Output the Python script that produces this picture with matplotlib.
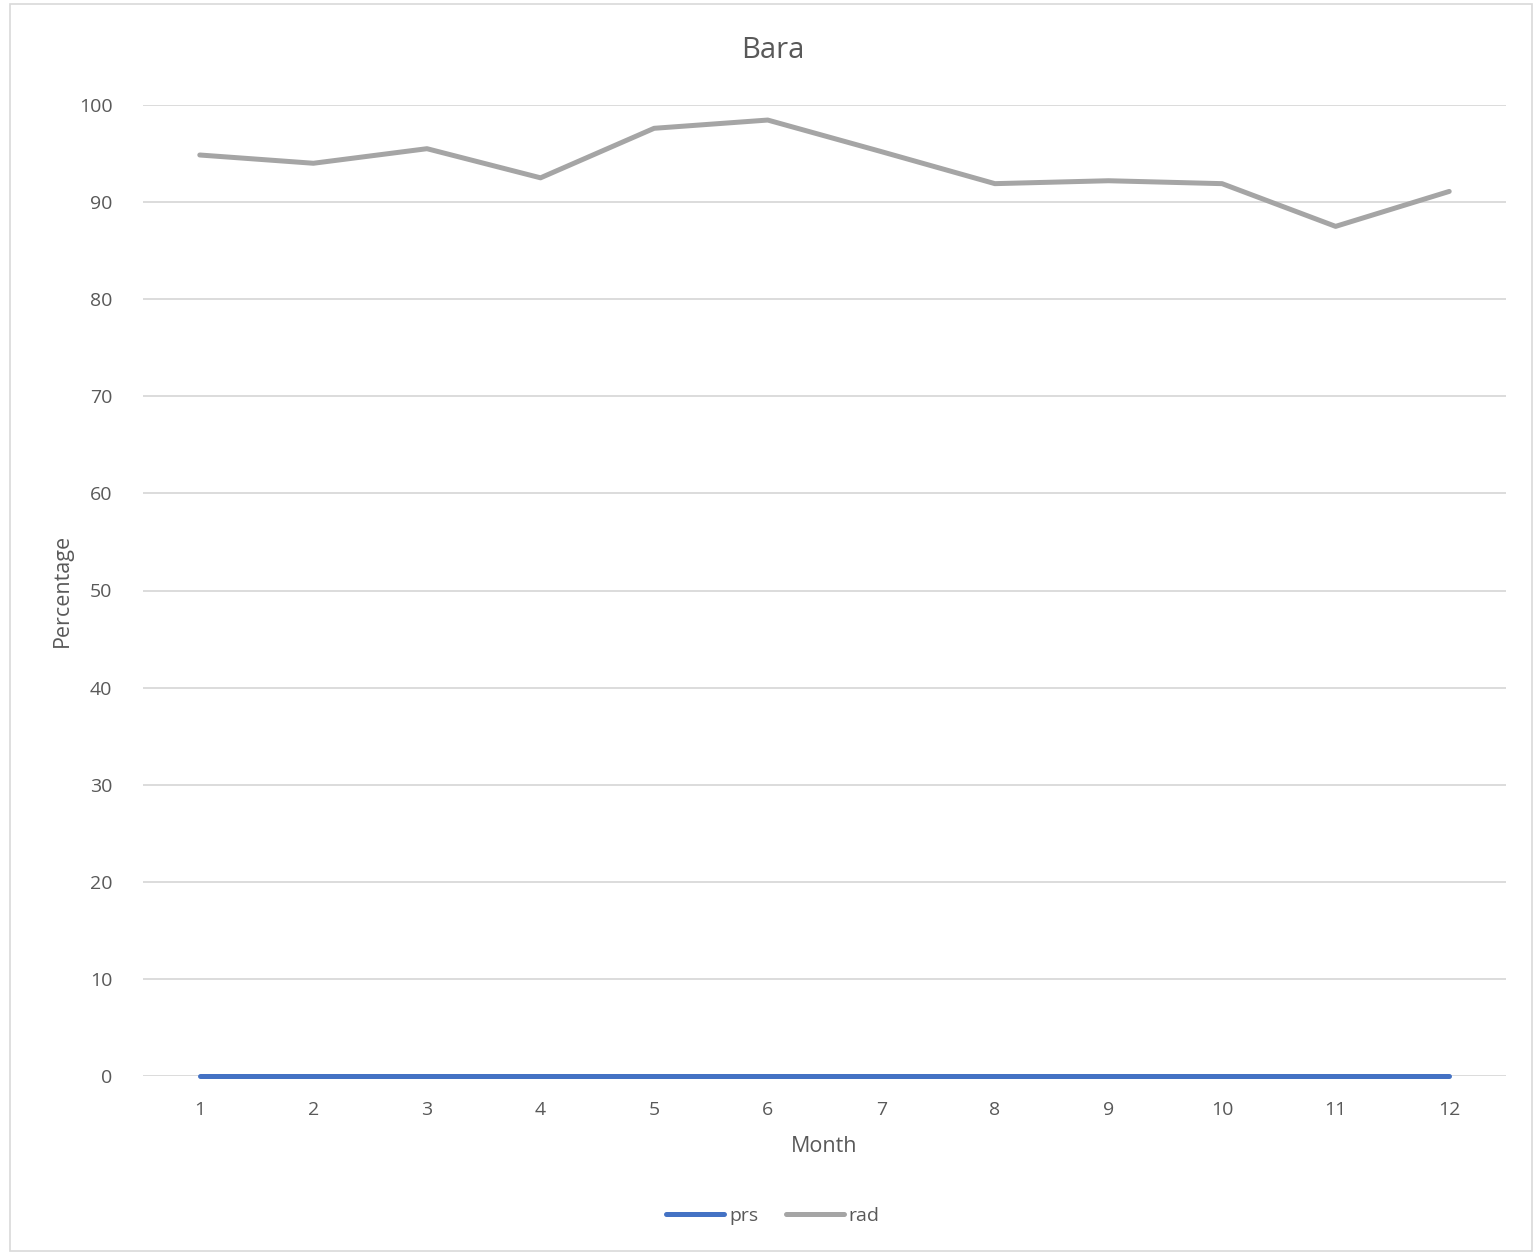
import matplotlib
matplotlib.use("Agg")
import matplotlib.pyplot as plt
from matplotlib.patches import Rectangle

months = [1, 2, 3, 4, 5, 6, 7, 8, 9, 10, 11, 12]
prs = [0, 0, 0, 0, 0, 0, 0, 0, 0, 0, 0, 0]
rad = [94.85, 94.0, 95.5, 92.5, 97.6, 98.45, 95.2, 91.9, 92.2, 91.9, 87.5, 91.1]
yticks = [0, 10, 20, 30, 40, 50, 60, 70, 80, 90, 100]

plt.rcParams['font.family'] = ['Open Sans', 'DejaVu Sans']
txt = '#595959'

W, H = 1536, 1254
fig = plt.figure(figsize=(W / 100, H / 100), dpi=100)
ax = fig.add_axes([143 / W, 1 - 1076 / H, (1506 - 143) / W, (1076 - 105) / H])

ax.plot(months, prs, color='#4472C4', lw=3.6, solid_capstyle='round', label='prs', zorder=3, clip_on=False)
ax.plot(months, rad, color='#A5A5A5', lw=3.6, solid_capstyle='round', label='rad', zorder=3, clip_on=False)

ax.set_xlim(0.5, 12.5)
ax.set_ylim(0, 100)
ax.set_yticks(yticks)
ax.set_xticks(months)
ax.grid(axis='y', color='#D9D9D9', lw=1.3)
ax.set_axisbelow(True)
for s in ax.spines.values():
    s.set_visible(False)
ax.tick_params(axis='both', length=0, colors=txt, labelsize=14)
ax.tick_params(axis='y', pad=22)
ax.tick_params(axis='x', pad=18)
for lbl in ax.get_yticklabels() + ax.get_xticklabels():
    lbl.set_color(txt)

ax.set_xlabel('Month', fontsize=15.5, color=txt, labelpad=12)
ax.set_ylabel('Percentage', fontsize=15.5, color=txt, labelpad=4)
fig.text(773 / W, 1 - 50 / H, 'Bara', ha='center', va='center', fontsize=21, color=txt)

leg = fig.legend(loc='center', bbox_to_anchor=(773 / W, 1 - 1216 / H), ncol=2, frameon=False,
                 fontsize=14, handlelength=3.0, handletextpad=0.25, columnspacing=1.4, labelcolor=txt)

fig.patches.append(Rectangle((10 / W, 3 / H), (1532 - 10) / W, (1250 - 3) / H, transform=fig.transFigure,
                             fill=False, edgecolor='#D9D9D9', lw=1.2))

fig.savefig('out.png', dpi=100, facecolor='white')
